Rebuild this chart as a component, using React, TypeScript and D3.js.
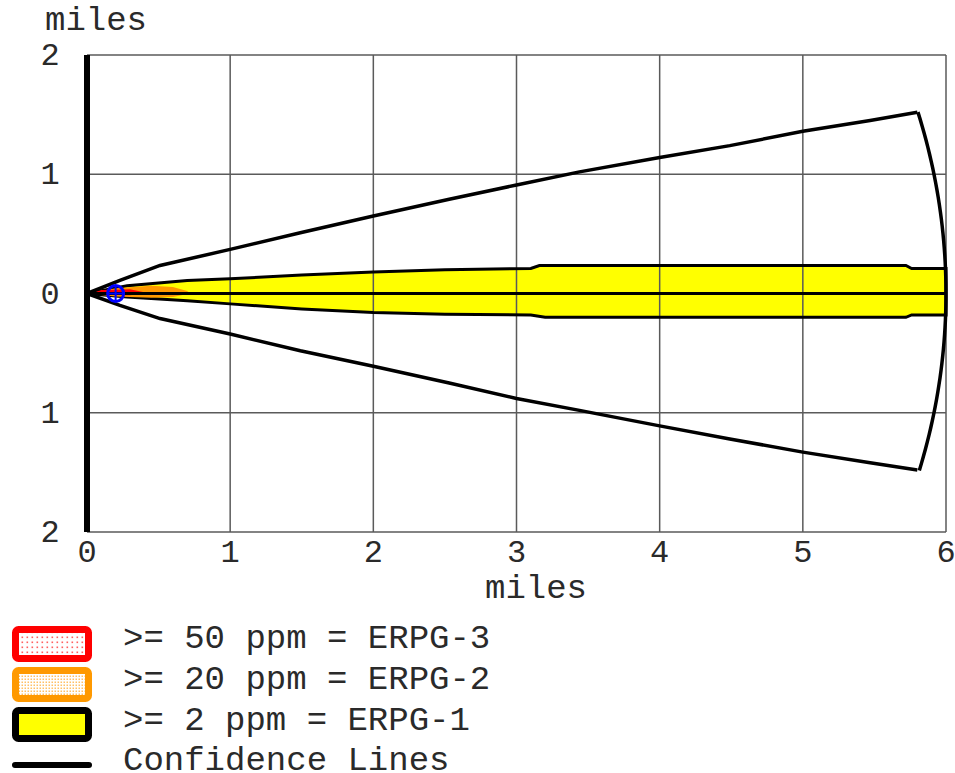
import React from 'react';
import * as d3 from 'd3';

// footprint values, in miles
const confidenceUpper: [number, number][] = [
  [0, 0], [0.23, 0.11], [0.51, 0.235], [1.0, 0.37], [1.49, 0.51], [2.0, 0.65],
  [2.53, 0.79], [3.0, 0.91], [3.44, 1.02], [4.0, 1.14], [4.49, 1.24], [5.0, 1.36],
  [5.47, 1.45], [5.8, 1.52],
];
const confidenceLower: [number, number][] = [
  [0, 0], [0.23, -0.1], [0.51, -0.21], [1.0, -0.34], [1.49, -0.48], [2.0, -0.61],
  [2.53, -0.75], [3.0, -0.88], [3.44, -0.98], [4.0, -1.11], [4.49, -1.22], [5.0, -1.33],
  [5.47, -1.42], [5.8, -1.48],
];
const erpg1Upper: [number, number][] = [
  [0, 0], [0.28, 0.065], [0.7, 0.11], [1.0, 0.123], [1.5, 0.155], [2.0, 0.18],
  [2.5, 0.2], [3.1, 0.21], [3.16, 0.235], [5.72, 0.235], [5.76, 0.21], [6.0, 0.21],
];
const erpg1Lower: [number, number][] = [
  [0, 0], [0.28, -0.03], [0.7, -0.06], [1.0, -0.087], [1.5, -0.13], [2.0, -0.16],
  [2.5, -0.175], [3.1, -0.18], [3.2, -0.2], [5.72, -0.2], [5.76, -0.18], [6.0, -0.18],
];
const erpg2Upper: [number, number][] = [[0, 0], [0.2, 0.045], [0.45, 0.065], [0.6, 0.055], [0.7, 0.02], [0.72, 0]];
const erpg2Lower: [number, number][] = [[0, 0], [0.2, -0.025], [0.45, -0.035], [0.6, -0.03], [0.72, 0]];
const erpg3Upper: [number, number][] = [[0, 0], [0.1, 0.03], [0.3, 0.035], [0.4, 0.01]];
const erpg3Lower: [number, number][] = [[0, 0], [0.1, -0.012], [0.3, -0.015], [0.4, 0]];
const centerLine: [number, number][] = [[0, 0], [6, 0]];
const sourcePoint: [number, number] = [0.2, 0];
const plumeRadius = 6;

const xTicks = [0, 1, 2, 3, 4, 5, 6];
const yTicks = [2, 1, 0, -1, -2];
const yTickLabels = ['2', '1', '0', '1', '2'];
const legendLabels = ['>= 50 ppm = ERPG-3', '>= 20 ppm = ERPG-2', '>= 2 ppm = ERPG-1', 'Confidence Lines'];

const W = 955;
const H = 773;
const FONT = '"Liberation Mono", "DejaVu Sans Mono", monospace';

export default function App() {
  const x = d3.scaleLinear().domain([0, 6]).range([87, 946]);
  const y = d3.scaleLinear().domain([-2, 2]).range([532, 55]);

  const line = d3.line<[number, number]>().x(d => x(d[0])).y(d => y(d[1]));
  const band = (up: [number, number][], lo: [number, number][]) =>
    line([...up, ...lo.slice().reverse()]) + 'Z';

  // closing arc at the plume's downwind distance
  const last = (a: [number, number][]) => a[a.length - 1];
  const a0 = Math.atan2(last(confidenceUpper)[1], last(confidenceUpper)[0]);
  const a1 = Math.atan2(last(confidenceLower)[1], last(confidenceLower)[0]);
  const arcPts = d3.range(0, 1.0001, 0.02).map(t => {
    const a = a0 + t * (a1 - a0);
    return [plumeRadius * Math.cos(a), plumeRadius * Math.sin(a)] as [number, number];
  });

  const gridColor = '#5a5a5a';
  const sx = x(sourcePoint[0]);
  const sy = y(sourcePoint[1]);

  return (
    <svg width={W} height={H} style={{ position: 'absolute', left: 0, top: 0, background: '#fff' }}>
      <defs>
        <pattern id="redDots" width="5" height="5" patternUnits="userSpaceOnUse">
          <rect width="5" height="5" fill="#fff" />
          <rect x="1.5" y="1.5" width="1.6" height="1.6" fill="#ff6060" />
        </pattern>
        <pattern id="orangeDots" width="3" height="3" patternUnits="userSpaceOnUse">
          <rect width="3" height="3" fill="#fff" />
          <rect x="0.5" y="0.5" width="1.5" height="1.5" fill="#ffb040" opacity="0.8" />
        </pattern>
      </defs>

      {/* bands */}
      <path d={band(erpg1Upper, erpg1Lower)} fill="#ffff00" stroke="none" />

      {/* grid */}
      {xTicks.slice(1).map(t => (
        <line key={'gx' + t} x1={x(t)} x2={x(t)} y1={y(2)} y2={y(-2)} stroke={gridColor} strokeWidth={1.5} />
      ))}
      {yTicks.map(t => (
        <line key={'gy' + t} x1={x(0)} x2={x(6)} y1={y(t)} y2={y(t)} stroke={gridColor} strokeWidth={1.5} />
      ))}

      <path d={band(erpg1Upper, erpg1Lower)} fill="none" stroke="#000" strokeWidth={3} />
      <path d={band(erpg2Upper, erpg2Lower)} fill="#ff9900" stroke="none" />
      <path d={band(erpg3Upper, erpg3Lower)} fill="#ff0000" stroke="none" />
      <path d={line(centerLine) || ''} fill="none" stroke="#000" strokeWidth={3} />

      {/* confidence lines */}
      <path d={line(confidenceUpper) || ''} fill="none" stroke="#000" strokeWidth={3.5} />
      <path d={line(confidenceLower) || ''} fill="none" stroke="#000" strokeWidth={3.5} />
      <path d={line(arcPts) || ''} fill="none" stroke="#000" strokeWidth={3.5} />

      {/* left axis */}
      <line x1={x(0)} x2={x(0)} y1={y(2)} y2={y(-2)} stroke="#000" strokeWidth={6} />

      {/* source */}
      <circle cx={sx} cy={sy} r={8} fill="none" stroke="#0000ff" strokeWidth={3} />
      <line x1={sx - 8} x2={sx + 8} y1={sy} y2={sy} stroke="#0000ff" strokeWidth={2} />
      <line x1={sx} x2={sx} y1={sy - 8} y2={sy + 8} stroke="#0000ff" strokeWidth={2} />

      {/* tick labels */}
      <g fontFamily={FONT} fontSize={32} fill="#2a2a2a">
        {yTicks.map((t, i) => (
          <text key={'ly' + t} x={50} y={y(t) + 10} textAnchor="middle">{yTickLabels[i]}</text>
        ))}
        {xTicks.map(t => (
          <text key={'lx' + t} x={x(t)} y={562} textAnchor="middle">{t}</text>
        ))}
        <text x={45} y={30} fontSize={34}>miles</text>
        <text x={485} y={598} fontSize={34}>miles</text>
      </g>

      {/* legend */}
      <rect x={15.5} y={629.5} width={73} height={29} rx={3} fill="url(#redDots)" stroke="#ff0000" strokeWidth={7} />
      <rect x={15.5} y={670.5} width={73} height={28} rx={3} fill="url(#orangeDots)" stroke="#ff9900" strokeWidth={7} />
      <rect x={15.5} y={710.5} width={73} height={28} rx={3} fill="#ffff00" stroke="#000" strokeWidth={7} />
      <line x1={15} x2={89} y1={765} y2={765} stroke="#000" strokeWidth={6} strokeLinecap="round" />
      <g fontFamily={FONT} fontSize={34} fill="#2a2a2a">
        {legendLabels.map((l, i) => (
          <text key={l} x={123} y={648 + i * 40.8} xmlSpace="preserve">{l}</text>
        ))}
      </g>
    </svg>
  );
}
